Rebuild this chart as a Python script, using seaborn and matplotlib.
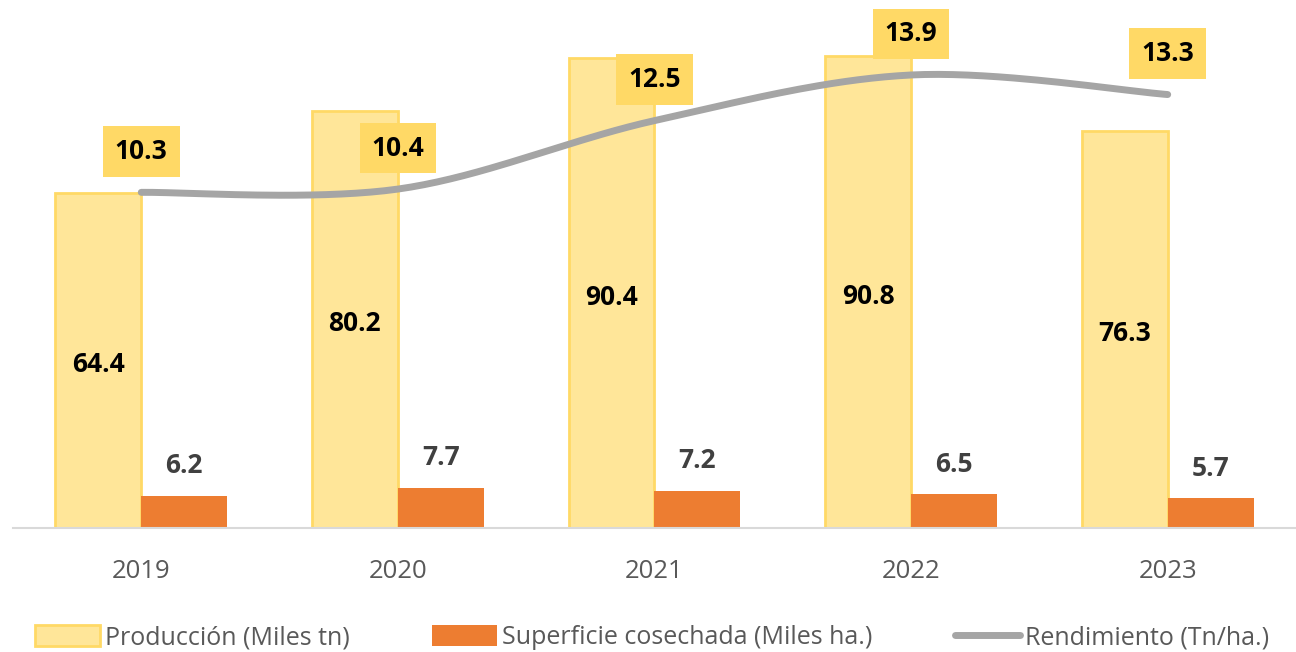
import numpy as np
import pandas as pd
import matplotlib
matplotlib.use('Agg')
import matplotlib.pyplot as plt
from matplotlib.patches import Patch
from matplotlib.lines import Line2D
import seaborn as sns

years = ['2019', '2020', '2021', '2022', '2023']
produccion = [64.4, 80.2, 90.4, 90.8, 76.3]
superficie = [6.2, 7.7, 7.2, 6.5, 5.7]
rendimiento = [10.3, 10.4, 12.5, 13.9, 13.3]

lbl_prod = 'Producción (Miles tn)'
lbl_sup = 'Superficie cosechada (Miles ha.)'
lbl_rend = 'Rendimiento (Tn/ha.)'

c_prod = '#FFE699'
c_prod_edge = '#FFD966'
c_sup = '#ED7D31'
c_rend = '#A5A5A5'
c_box = '#FFD966'

sns.set_theme(style='white')
plt.rcParams['font.family'] = ['Open Sans', 'DejaVu Sans']

df = pd.DataFrame({
    'year': years * 2,
    'valor': produccion + superficie,
    'serie': [lbl_prod] * 5 + [lbl_sup] * 5,
})

fig = plt.figure(figsize=(12.96, 6.52), dpi=100)
ax = fig.add_axes([0.01, 0.19, 0.99, 0.81])
sns.barplot(data=df, x='year', y='valor', hue='serie', order=years,
            palette=[c_prod, c_sup], width=0.67, ax=ax, legend=False,
            saturation=1, errorbar=None)

# bordes de las barras de produccion
for p in ax.containers[0]:
    p.set_edgecolor(c_prod_edge)
    p.set_linewidth(2)
for p in ax.containers[1]:
    p.set_edgecolor('none')

ax.set_xlim(-0.5, 4.5)
ax.set_ylim(0, 101.5)
ax.set_xlabel('')
ax.set_ylabel('')
ax.set_yticks([])
for s in ['top', 'left', 'right']:
    ax.spines[s].set_visible(False)
ax.spines['bottom'].set_color('#D9D9D9')
ax.spines['bottom'].set_linewidth(1.5)
ax.tick_params(axis='x', length=0, pad=22, labelsize=18.5, labelcolor='#595959')

# etiquetas de barras
for i, v in enumerate(produccion):
    x = ax.containers[0][i].get_x() + ax.containers[0][i].get_width() / 2
    ax.text(x, v / 2 - 0.8, f'{v:.1f}', ha='center', va='center', fontsize=19,
            fontweight='bold', color='#000000')
for i, v in enumerate(superficie):
    x = ax.containers[1][i].get_x() + ax.containers[1][i].get_width() / 2
    ax.text(x, v + 5.8, f'{v:.1f}', ha='center', va='center', fontsize=19,
            fontweight='bold', color='#404040')

# linea suavizada (estilo Excel)
ax2 = ax.twinx()
ax2.set_ylim(0, 16.2)
ax2.set_yticks([])
for s in ax2.spines.values():
    s.set_visible(False)

xs = np.arange(len(rendimiento), dtype=float)
ys = np.array(rendimiento, dtype=float)
px = np.concatenate([[xs[0]], xs, [xs[-1]]])
py = np.concatenate([[ys[0]], ys, [ys[-1]]])
cx, cy = [], []
t = np.linspace(0, 1, 40)
for i in range(1, len(px) - 2):
    p0 = np.array([px[i], py[i]])
    p3 = np.array([px[i + 1], py[i + 1]])
    b1 = p0 + (np.array([px[i + 1], py[i + 1]]) - np.array([px[i - 1], py[i - 1]])) / 6
    b2 = p3 - (np.array([px[i + 2], py[i + 2]]) - np.array([px[i], py[i]])) / 6
    pts = ((1 - t) ** 3)[:, None] * p0 + (3 * (1 - t) ** 2 * t)[:, None] * b1 \
        + (3 * (1 - t) * t ** 2)[:, None] * b2 + (t ** 3)[:, None] * p3
    cx.extend(pts[:, 0])
    cy.extend(pts[:, 1])
ax2.plot(cx, cy, color=c_rend, linewidth=5, solid_capstyle='round')

for i, v in enumerate(rendimiento):
    ax2.annotate(f'{v:.1f}', (xs[i], v), xytext=(0, 41), textcoords='offset pixels',
                 ha='center', va='center', fontsize=19, fontweight='bold', color='#000000',
                 bbox=dict(boxstyle='square,pad=0.45', fc=c_box, ec='none'))

handles = [
    Patch(facecolor=c_prod, edgecolor=c_prod_edge, linewidth=2, label=lbl_prod),
    Patch(facecolor=c_sup, edgecolor='none', label=lbl_sup),
    Line2D([0], [0], color=c_rend, linewidth=5, label=lbl_rend),
]
fig.legend(handles=handles, loc='center', bbox_to_anchor=(0.503, 0.022), ncol=3,
           frameon=False, fontsize=18, labelcolor='#595959', handlelength=2.6,
           handleheight=0.9, handletextpad=0.2, columnspacing=3.3)

fig.savefig('out.png', dpi=100)
